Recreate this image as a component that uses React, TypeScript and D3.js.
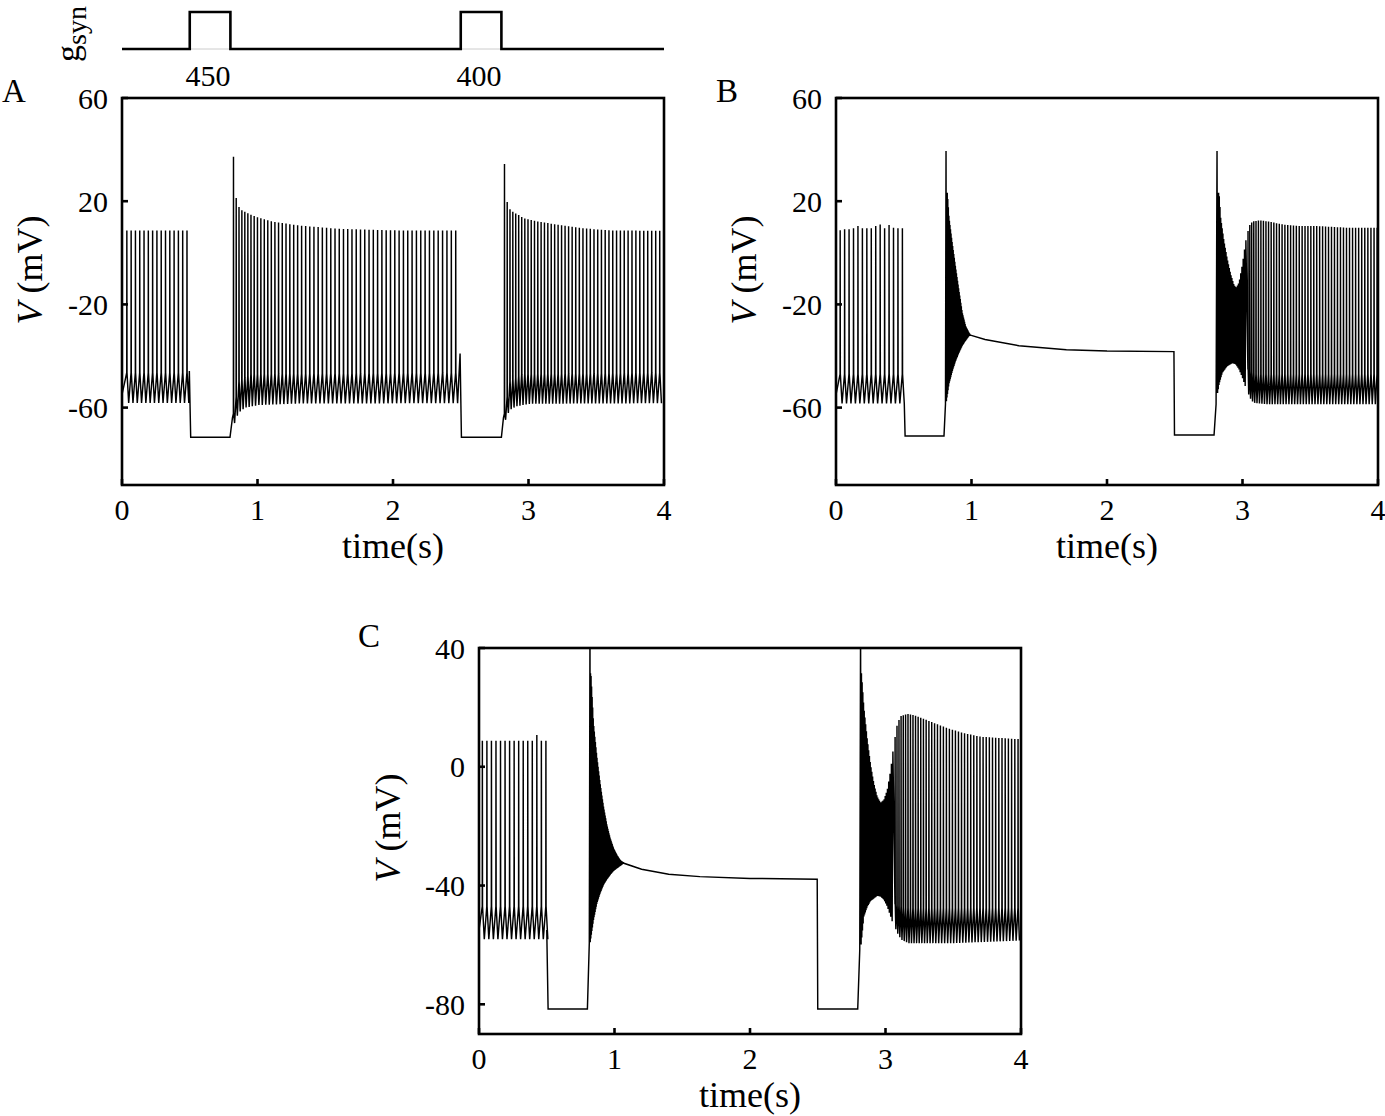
import React from 'react';
import * as d3 from 'd3';

type P = [number, number];

// ---------- g_syn schematic ----------
const GSYN_PULSES: P[] = [[0.5, 0.8], [2.5, 2.8]];
const GSYN_LABELS = ['450', '400'];

// ---------- axis ticks ----------
const T_TICKS = [0, 1, 2, 3, 4];
const AB_V_TICKS = [60, 20, -20, -60];
const C_V_TICKS = [40, 0, -40, -80];
const AB_V_DOMAIN: P = [-90, 60];
const C_V_DOMAIN: P = [-90, 40];

// ---------- Panel A ----------
const A_START: P[] = [[0, -55]];
const A1_PERIOD: P[] = [[0, 0.0317], [0.5, 0.0317]];
const A1_PEAK: P[] = [[0, 8.6], [0.5, 8.6]];
const A1_TROUGH: P[] = [[0, -58.2], [0.5, -58.2]];
const A1_THR: P[] = [[0, -46.5], [0.5, -46.5]];
const A_LINK1: P[] = [[0.497, -45.8], [0.507, -71.5], [0.797, -71.5], [0.815, -64]];
const A2_PERIOD: P[] = [[0.82, 0.02], [1.0, 0.025], [1.4, 0.031], [2.5, 0.0325]];
const A2_PEAK: P[] = [[0.822, 37.2], [0.835, 23.3], [0.85, 19], [0.87, 17], [0.9, 16], [0.95, 14.8], [1.0, 13.8], [1.1, 12.2], [1.3, 10.6], [1.6, 9.3], [2.0, 8.7], [2.5, 8.6]];
const A2_TROUGH: P[] = [[0.822, -66], [0.85, -62], [0.9, -60], [1.0, -59], [1.3, -58.4], [2.5, -58.3]];
const A2_THR: P[] = [[0.82, -63], [0.86, -50], [0.95, -47], [2.5, -46.5]];
const A_LINK2: P[] = [[2.495, -39], [2.505, -71.5], [2.8, -71.5], [2.815, -64]];
const A3_PERIOD: P[] = [[2.82, 0.02], [3.0, 0.024], [3.4, 0.027], [4.0, 0.03]];
const A3_PEAK: P[] = [[2.82, 37.2], [2.83, 23.3], [2.845, 18.8], [2.86, 17], [2.88, 16], [2.9, 15.4], [2.93, 14.6], [2.96, 13.5], [3.05, 12.3], [3.2, 11], [3.4, 9.5], [3.6, 8.7], [4.0, 8.5]];
const A3_TROUGH: P[] = [[2.82, -65], [2.85, -61], [2.9, -59.5], [3.0, -58.5], [4.0, -58.3]];
const A3_THR: P[] = [[2.82, -63], [2.86, -50], [2.95, -47], [4.0, -46.5]];

// ---------- Panel B ----------
const B_START: P[] = [[0, -55]];
const B1_PERIOD: P[] = [[0, 0.0328], [0.5, 0.0328]];
const B1_PEAK: P[] = [[0, 9.2], [0.5, 9.2]];
const B1_PEAK_LIST = [8.7, 9.1, 9.1, 9.5, 10.4, 9.5, 9.5, 9.5, 10.4, 11.0, 9.5, 10.8, 9.7, 9.5, 9.5];
const B1_TROUGH: P[] = [[0, -58.4], [0.5, -58.4]];
const B1_THR: P[] = [[0, -47], [0.5, -47]];
const B_LINK1: P[] = [[0.51, -71], [0.797, -71], [0.808, -58.6], [0.812, 39.5]];
const B_OSC1_PERIOD: P[] = [[0.8, 0.004], [1.0, 0.004]];
const B_OSC1_PEAK: P[] = [[0.822, 23.3], [0.834, 13.6], [0.859, 3.4], [0.883, -5.8], [0.908, -14.8], [0.932, -23.2], [0.957, -28.4], [0.982, -31], [0.994, -32]];
const B_OSC1_TROUGH: P[] = [[0.812, -58.6], [0.834, -50.8], [0.859, -45.8], [0.883, -41.9], [0.908, -38.7], [0.932, -36], [0.957, -34], [0.982, -32.2], [0.994, -32]];
const B_LINK2: P[] = [[0.998, -32], [1.1, -33.6], [1.35, -36], [1.7, -37.6], [2.0, -38.1], [2.494, -38.3], [2.498, -70.6], [2.79, -70.6], [2.805, -58.7], [2.812, 39.5]];
const B_OSC2_PERIOD: P[] = [[2.816, 0.005], [2.95, 0.007], [3.03, 0.011]];
const B_POST_PEAK: P[] = [[2.827, 23.3], [2.839, 13.6], [2.863, 4.6], [2.888, -2.5], [2.913, -8.3], [2.937, -12.5], [2.954, -13.5], [2.974, -11.6], [2.999, -4.5], [3.024, 4.6], [3.048, 10.4], [3.073, 12.1], [3.122, 12.6], [3.196, 12.1], [3.294, 11], [3.417, 10.4], [3.54, 10.4], [3.786, 9.7], [4.0, 9.7]];
const B_POST_TROUGH: P[] = [[2.802, -58.7], [2.827, -51], [2.851, -46.5], [2.888, -43.9], [2.925, -42.8], [2.95, -43.2], [2.974, -45.2], [2.999, -48.4], [3.024, -52.3], [3.048, -56.2], [3.073, -58.1], [3.171, -58.7], [4.0, -58.7]];
const B3_PERIOD: P[] = [[3.04, 0.013], [3.1, 0.018], [3.3, 0.021], [4.0, 0.023]];
const B3_THR: P[] = [[3.0, -44], [3.1, -47], [4.0, -47]];

// ---------- Panel C ----------
const C_START: P[] = [[0, -55]];
const C1_PERIOD: P[] = [[0, 0.0335], [0.5, 0.0335]];
const C1_PEAK: P[] = [[0, 8.8], [0.5, 8.8]];
const C1_PEAK_LIST = [8.8, 8.8, 8.8, 8.8, 8.8, 8.8, 8.8, 8.8, 8.8, 8.8, 8.8, 8.8, 10.7, 8.8, 8.8];
const C1_TROUGH: P[] = [[0, -58.1], [0.5, -58.1]];
const C1_THR: P[] = [[0, -47], [0.5, -47]];
const C_LINK1: P[] = [[0.5, -55], [0.51, -81.6], [0.8, -81.6], [0.814, -59.4], [0.819, 48]];
const C_OSC1_PERIOD: P[] = [[0.8, 0.004], [1.1, 0.004]];
const C_OSC1_PEAK: P[] = [[0.826, 31.5], [0.845, 14.6], [0.87, 3.4], [0.894, -5.6], [0.919, -13.4], [0.944, -19.6], [0.968, -24], [0.993, -27.4], [1.018, -29.7], [1.042, -31.4], [1.067, -32.3]];
const C_OSC1_TROUGH: P[] = [[0.82, -59.4], [0.845, -51.6], [0.87, -46], [0.894, -42.6], [0.919, -39.8], [0.944, -37.9], [0.968, -36.4], [0.993, -35.1], [1.018, -34.2], [1.042, -33.4], [1.067, -32.5]];
const C_LINK2: P[] = [[1.07, -32.5], [1.2, -34.5], [1.4, -36.2], [1.63, -37], [2.0, -37.6], [2.496, -37.9], [2.5, -81.6], [2.795, -81.6], [2.81, -61.7], [2.816, 48]];
const C_OSC2_PERIOD: P[] = [[2.82, 0.005], [2.98, 0.007], [3.06, 0.012]];
const C_POST_PEAK: P[] = [[2.823, 31.5], [2.84, 20.2], [2.866, 9], [2.89, 0.6], [2.914, -5.6], [2.939, -10.1], [2.964, -12.1], [2.988, -11.2], [3.013, -7.8], [3.038, -1.1], [3.062, 7.9], [3.087, 14.6], [3.112, 17.1], [3.161, 17.8], [3.21, 17.4], [3.333, 15.2], [3.457, 13], [3.58, 11.3], [3.703, 10.1], [3.949, 9.4], [4.0, 9.3]];
const C_POST_TROUGH: P[] = [[2.816, -61.7], [2.84, -50.5], [2.866, -47.1], [2.89, -45.2], [2.939, -43.5], [2.964, -43.7], [2.988, -44.8], [3.013, -47.1], [3.038, -50.5], [3.062, -53.8], [3.087, -56.6], [3.112, -58.3], [3.161, -59.4], [3.5, -59.4], [4.0, -58.5]];
const C3_PERIOD: P[] = [[3.07, 0.014], [3.15, 0.018], [3.4, 0.022], [4.0, 0.024]];
const C3_THR: P[] = [[3.05, -46], [3.15, -47.5], [4.0, -47.5]];

// ---------- trace assembly ----------
type Piece =
  | { type: 'path'; pts: P[] }
  | { type: 'spikes'; t0: number; t1: number; period: P[]; peak: P[]; trough: P[]; thr: P[]; peakList?: number[] }
  | { type: 'osc'; t0: number; t1: number; period: P[]; peak: P[]; trough: P[] };

function env(e: P[], t: number): number {
  if (t <= e[0][0]) return e[0][1];
  for (let i = 1; i < e.length; i++) {
    if (t <= e[i][0]) {
      const [ta, va] = e[i - 1];
      const [tb, vb] = e[i];
      return va + ((vb - va) * (t - ta)) / (tb - ta);
    }
  }
  return e[e.length - 1][1];
}

function build(pieces: Piece[]): P[] {
  const out: P[] = [];
  for (const pc of pieces) {
    if (pc.type === 'path') {
      out.push(...pc.pts);
    } else if (pc.type === 'spikes') {
      let i = 0;
      for (let t = pc.t0; t <= pc.t1 + 1e-9; ) {
        const per = env(pc.period, t);
        const pk = pc.peakList && i < pc.peakList.length ? pc.peakList[i] : env(pc.peak, t);
        out.push([t, env(pc.thr, t)]);
        out.push([t + 0.0008, pk]);
        out.push([t + 0.002, env(pc.thr, t)]);
        out.push([t + 0.45 * per, env(pc.trough, t)]);
        t += per;
        i++;
      }
    } else {
      for (let t = pc.t0; t <= pc.t1 + 1e-9; ) {
        const per = env(pc.period, t);
        out.push([t, env(pc.trough, t)]);
        out.push([t + per / 2, env(pc.peak, t + per / 2)]);
        t += per;
      }
    }
  }
  return out;
}

const A_PIECES: Piece[] = [
  { type: 'path', pts: A_START },
  { type: 'spikes', t0: 0.035, t1: 0.48, period: A1_PERIOD, peak: A1_PEAK, trough: A1_TROUGH, thr: A1_THR },
  { type: 'path', pts: A_LINK1 },
  { type: 'spikes', t0: 0.822, t1: 2.48, period: A2_PERIOD, peak: A2_PEAK, trough: A2_TROUGH, thr: A2_THR },
  { type: 'path', pts: A_LINK2 },
  { type: 'spikes', t0: 2.822, t1: 3.995, period: A3_PERIOD, peak: A3_PEAK, trough: A3_TROUGH, thr: A3_THR },
];

const B_PIECES: Piece[] = [
  { type: 'path', pts: B_START },
  { type: 'spikes', t0: 0.03, t1: 0.49, period: B1_PERIOD, peak: B1_PEAK, trough: B1_TROUGH, thr: B1_THR, peakList: B1_PEAK_LIST },
  { type: 'path', pts: B_LINK1 },
  { type: 'osc', t0: 0.815, t1: 0.994, period: B_OSC1_PERIOD, peak: B_OSC1_PEAK, trough: B_OSC1_TROUGH },
  { type: 'path', pts: B_LINK2 },
  { type: 'osc', t0: 2.816, t1: 3.03, period: B_OSC2_PERIOD, peak: B_POST_PEAK, trough: B_POST_TROUGH },
  { type: 'spikes', t0: 3.04, t1: 3.995, period: B3_PERIOD, peak: B_POST_PEAK, trough: B_POST_TROUGH, thr: B3_THR },
];

const C_PIECES: Piece[] = [
  { type: 'path', pts: C_START },
  { type: 'spikes', t0: 0.024, t1: 0.495, period: C1_PERIOD, peak: C1_PEAK, trough: C1_TROUGH, thr: C1_THR, peakList: C1_PEAK_LIST },
  { type: 'path', pts: C_LINK1 },
  { type: 'osc', t0: 0.821, t1: 1.067, period: C_OSC1_PERIOD, peak: C_OSC1_PEAK, trough: C_OSC1_TROUGH },
  { type: 'path', pts: C_LINK2 },
  { type: 'osc', t0: 2.82, t1: 3.06, period: C_OSC2_PERIOD, peak: C_POST_PEAK, trough: C_POST_TROUGH },
  { type: 'spikes', t0: 3.07, t1: 3.995, period: C3_PERIOD, peak: C_POST_PEAK, trough: C_POST_TROUGH, thr: C3_THR },
];

const FONT = "'Liberation Serif', 'Times New Roman', Times, serif";
const TICK_FS = 30;
const TITLE_FS = 36;

interface PanelProps {
  id: string;
  x0: number;
  y0: number;
  w: number;
  h: number;
  domain: P;
  vTicks: number[];
  pieces: Piece[];
  letter: string;
  letterPos: P;
  vLabelPos: P;
}

function Panel({ id, x0, y0, w, h, domain, vTicks, pieces, letter, letterPos, vLabelPos }: PanelProps) {
  const xs = d3.scaleLinear().domain([0, 4]).range([x0, x0 + w]);
  const ys = d3.scaleLinear().domain(domain).range([y0 + h, y0]);
  const data = build(pieces);
  const line = d3
    .line<P>()
    .x((d) => xs(d[0]))
    .y((d) => ys(d[1]));
  const clipId = `clip-${id}`;
  return (
    <g>
      <defs>
        <clipPath id={clipId}>
          <rect x={x0} y={y0} width={w} height={h} />
        </clipPath>
      </defs>
      <path d={line(data) || ''} fill="none" stroke="#000" strokeWidth={1.45} strokeLinejoin="miter" strokeMiterlimit={2} clipPath={`url(#${clipId})`} />
      <rect x={x0} y={y0} width={w} height={h} fill="none" stroke="#000" strokeWidth={2.6} />
      {vTicks.map((v) => (
        <g key={`v${v}`}>
          <line x1={x0} x2={x0 + 6} y1={ys(v)} y2={ys(v)} stroke="#000" strokeWidth={2.6} />
          <text x={x0 - 14} y={ys(v)} dy="0.35em" textAnchor="end" fontSize={TICK_FS} fontFamily={FONT}>
            {v}
          </text>
        </g>
      ))}
      {T_TICKS.map((t) => (
        <g key={`t${t}`}>
          <line x1={xs(t)} x2={xs(t)} y1={y0 + h} y2={y0 + h - 6} stroke="#000" strokeWidth={2.6} />
          <text x={xs(t)} y={y0 + h + 35} textAnchor="middle" fontSize={TICK_FS} fontFamily={FONT}>
            {t}
          </text>
        </g>
      ))}
      <text x={x0 + w / 2} y={y0 + h + 73} textAnchor="middle" fontSize={TITLE_FS} fontFamily={FONT}>
        time(s)
      </text>
      <text
        transform={`translate(${vLabelPos[0]},${vLabelPos[1]}) rotate(-90)`}
        textAnchor="middle"
        fontSize={TITLE_FS}
        fontFamily={FONT}
      >
        <tspan fontStyle="italic">V</tspan>
        <tspan> (mV)</tspan>
      </text>
      <text x={letterPos[0]} y={letterPos[1]} fontSize={33} fontFamily={FONT}>
        {letter}
      </text>
    </g>
  );
}

function Gsyn() {
  const xs = d3.scaleLinear().domain([0, 4]).range([122, 664]);
  const base = 49;
  const top = 12;
  let d = `M${xs(0)},${base}`;
  GSYN_PULSES.forEach(([a, b]) => {
    d += `L${xs(a)},${base}L${xs(a)},${top}L${xs(b)},${top}L${xs(b)},${base}`;
  });
  d += `L${xs(4)},${base}`;
  return (
    <g>
      {GSYN_PULSES.map(([a, b], i) => (
        <line key={`g${i}`} x1={xs(a)} x2={xs(b)} y1={base} y2={base} stroke="#ccc" strokeWidth={1} />
      ))}
      <path d={d} fill="none" stroke="#000" strokeWidth={2.6} />
      {GSYN_PULSES.map(([a, b], i) => (
        <text key={`l${i}`} x={xs((a + b) / 2) - 2} y={86} textAnchor="middle" fontSize={TICK_FS} fontFamily={FONT}>
          {GSYN_LABELS[i]}
        </text>
      ))}
      <text transform="translate(79,62) rotate(-90)" fontSize={34} fontFamily={FONT}>
        <tspan>g</tspan>
        <tspan fontSize={28} dy={7}>
          syn
        </tspan>
      </text>
    </g>
  );
}

export default function App() {
  return (
    <svg
      width={1385}
      height={1116}
      viewBox="0 0 1385 1116"
      style={{ position: 'absolute', left: 0, top: 0, background: '#fff' }}
    >
      <rect x={0} y={0} width={1385} height={1116} fill="#fff" />
      <Gsyn />
      <Panel
        id="A"
        x0={122}
        y0={98}
        w={542}
        h={387}
        domain={AB_V_DOMAIN}
        vTicks={AB_V_TICKS}
        pieces={A_PIECES}
        letter="A"
        letterPos={[2, 102]}
        vLabelPos={[42, 270]}
      />
      <Panel
        id="B"
        x0={836}
        y0={98}
        w={542}
        h={387}
        domain={AB_V_DOMAIN}
        vTicks={AB_V_TICKS}
        pieces={B_PIECES}
        letter="B"
        letterPos={[716, 102]}
        vLabelPos={[756, 270]}
      />
      <Panel
        id="C"
        x0={479}
        y0={648}
        w={542}
        h={386}
        domain={C_V_DOMAIN}
        vTicks={C_V_TICKS}
        pieces={C_PIECES}
        letter="C"
        letterPos={[358, 647]}
        vLabelPos={[400, 828]}
      />
    </svg>
  );
}
